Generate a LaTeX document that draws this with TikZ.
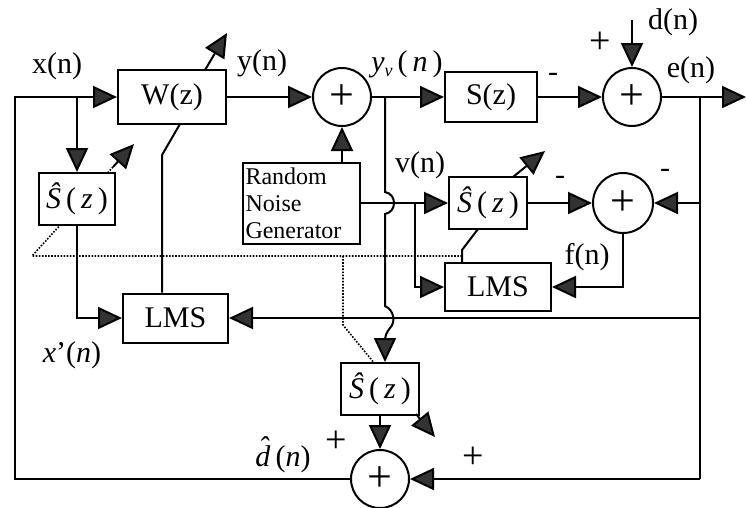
\documentclass[tikz,border=0pt]{standalone}
\usepackage{fontspec}
\setmainfont{Liberation Serif}
\usetikzlibrary{arrows.meta,backgrounds}
\newcommand{\hS}{\textit{Ŝ}\,(\,\textit{z}\,)}
\begin{document}
\begin{tikzpicture}[x=1pt,y=-1pt,
  every node/.style={font=\fontsize{30}{32}\selectfont},
  blk/.style={draw,line width=2pt,fill=white,inner sep=0pt},
  sumc/.style={draw,circle,line width=2pt,minimum size=58pt,inner sep=0pt,fill=white,font=\fontsize{44}{46}\selectfont},
  wire/.style={line width=2pt},
  arr/.style={wire,-{Triangle[length=24pt,width=22pt,fill=black!80]}},
  dotline/.style={line width=1.6pt,dash pattern=on 1.6pt off 1.5pt},
  lbl/.style={inner sep=0pt},
  plbl/.style={inner sep=0pt,font=\fontsize{38}{40}\selectfont},
]
\useasboundingbox (0,0) rectangle (746,507);

% blocks
\node[blk,minimum width=108pt,minimum height=54pt] (W) at (172,97) {W(z)};
\node[sumc] (sum1) at (342,97) {+};
\node[blk,minimum height=81pt,text width=112pt,inner xsep=2.5pt,align=left,
      font=\fontsize{24}{27}\selectfont] (RNG) at (301.5,203) {Random\\Noise\\Generator};
\node[blk,minimum width=92pt,minimum height=50pt] (S) at (491,97) {S(z)};
\node[sumc] (sum2) at (632,97) {+};
\node[blk,minimum width=76pt,minimum height=52pt] (Sh1) at (77,199) {\hS};
\node[blk,minimum width=78pt,minimum height=52pt] (Sh2) at (488,203) {\hS};
\node[sumc,minimum size=60pt] (sum3) at (623,203) {+};
\node[blk,minimum width=106pt,minimum height=48pt] (LMS2) at (498,287) {LMS};
\node[blk,minimum width=105pt,minimum height=49pt] (LMS1) at (175.5,318) {LMS};
\node[blk,minimum width=78pt,minimum height=52pt] (Sh3) at (380,389) {\hS};
\node[sumc] (sum4) at (380,479) {+};

% coordinates
\coordinate (cl) at (15,97);
\coordinate (cb) at (15,479);
\coordinate (jx) at (77,97);
\coordinate (l1a) at (162,155);
\coordinate (l1b) at (180,124);
\coordinate (yj) at (385,97);
\coordinate (vb) at (415,203);
\coordinate (s2a) at (478,229);
\coordinate (s2b) at (462,250);
\coordinate (dtop) at (632,20);
\coordinate (out) at (746,97);
\coordinate (ej) at (700,97);
\coordinate (e1) at (700,203);
\coordinate (e2) at (700,318);
\coordinate (e3) at (700,479);
\coordinate (wa) at (205,70);
\coordinate (wb) at (227,33);
\coordinate (ha) at (513,177);
\coordinate (hb) at (545,151);
\coordinate (dr) at (462,256);
\coordinate (dl) at (32,256);
\coordinate (dp1) at (113,167);
\coordinate (dh1) at (134,144);
\coordinate (dm) at (343,256);
\coordinate (dm2) at (343,325);
\coordinate (dp3) at (416,414);
\coordinate (dh3) at (435,437);

% adaptive (dotted) arrows behind the boxes
\begin{scope}[on background layer]
\draw[dotline] (dr) -- (dl) -- (dp1);
\draw[dotline] (dm) -- (dm2) -- (dp3);
\end{scope}
\draw[arr] (dp1) -- (dh1);
\draw[arr] (dp3) -- (dh3);

% wires
\draw[arr] (sum4.west) -- (cb) -- (cl) -- (W.west);
\draw[arr] (jx) -- (Sh1.north);
\draw[arr] (Sh1.south) |- (LMS1.west);
\draw[wire] (l1a |- LMS1.north) -- (l1a) -- (l1b);
\draw[arr] (wa) -- (wb);
\draw[arr] (W.east) -- (sum1.west);
\draw[arr] (RNG.north -| sum1) -- (sum1.south);
\draw[arr] (sum1.east) -- (S.west);
\draw[arr] (S.east) -- (sum2.west);
\draw[arr] (dtop) -- (sum2.north);
\draw[arr] (sum2.east) -- (out);
\draw[wire] (ej) -- (e3);
\draw[arr] (e1) -- (sum3.east);
\draw[arr] (e2) -- (LMS1.east);
\draw[arr] (e3) -- (sum4.east);
\draw[arr] (RNG.east) -- (Sh2.west);
\draw[arr] (Sh2.east) -- (sum3.west);
\draw[arr] (vb) |- (LMS2.west);
\draw[arr] (sum3.south) |- (LMS2.east);
\draw[wire] (s2a) -- (s2b) -- (s2b |- LMS2.north);
\draw[arr] (ha) -- (hb);
\draw[arr] (yj) -- (385,192) .. controls (397,194) and (397,212) .. (385,214)
  -- (385,306) .. controls (394,310) and (396,322) .. (390,328)
  .. controls (386,333) and (385,336) .. (385,342) -- (yj |- Sh3.north);
\draw[arr] (Sh3.south) -- (sum4.north);

% labels
\node[lbl] (lx) at (57,66) {x(n)};
\node[lbl] (ly) at (262,63) {y(n)};
\node[lbl] (lyv) at (407,64) {\textit{y}\raisebox{-5pt}{\fontsize{18}{18}\selectfont\textit{v}}\,(\,\textit{n}\,)};
\node[lbl] (ld) at (673,22) {d(n)};
\node[plbl] (lp1) at (600,43) {+};
\node[lbl] (le) at (691,70) {e(n)};
\node[lbl] (lm1) at (553,77) {-};
\node[lbl] (lv) at (420,165) {v(n)};
\node[lbl] (lm2) at (560,180) {-};
\node[lbl] (lm3) at (665,173) {-};
\node[lbl] (lf) at (587,257) {f(n)};
\node[lbl] (lxp) at (72,355) {\textit{x}'(\textit{n})};
\node[lbl] (ldh) at (283,455) {\textit{d}\llap{\raisebox{0.3em}{\textit{ˆ}}\kern1pt}\,(\textit{n})};
\node[plbl] (lp2) at (336,442) {+};
\node[plbl] (lp3) at (473,458) {+};
\end{tikzpicture}
\end{document}
